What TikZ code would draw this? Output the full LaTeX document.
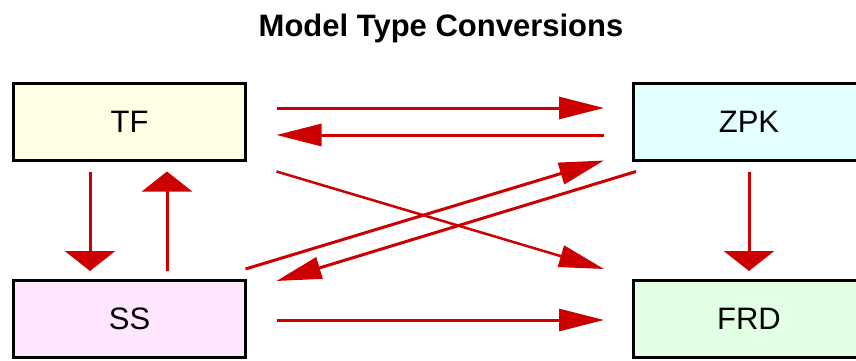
\documentclass[tikz,border=0pt]{standalone}
\usepackage{fontspec}
\setmainfont{Liberation Sans}
\usetikzlibrary{arrows.meta}
\definecolor{arrred}{HTML}{CC0000}
\definecolor{tffill}{HTML}{FFFFE6}
\definecolor{zpkfill}{HTML}{E3FFFF}
\definecolor{ssfill}{HTML}{FFE6FF}
\definecolor{frdfill}{HTML}{E3FFE3}
\begin{document}
\begin{tikzpicture}[x=1pt,y=1pt,
  modelbox/.style={draw=black,line width=3pt,minimum width=232pt,minimum height=77pt,
    inner sep=0pt,outer sep=0pt,font=\fontsize{31}{36}\selectfont},
  harr/.style={draw=arrred,line width=3pt,-{Triangle[length=45pt,width=22pt]}},
  varr/.style={draw=arrred,line width=3pt,-{Triangle[length=20pt,width=50pt]}}]
\useasboundingbox (0,0) rectangle (856,360);
\node[font=\fontsize{31}{36}\selectfont\bfseries] (title) at (441,332) {Model Type Conversions};
\node[modelbox,fill=tffill] (tf) at (129.5,238) {TF};
\node[modelbox,fill=zpkfill] (zpk) at (749,238) {ZPK};
\node[modelbox,fill=ssfill] (ss) at (129.5,41.5) {SS};
\node[modelbox,fill=frdfill] (frd) at (749,41.5) {FRD};
% horizontal
\draw[harr] ([shift={(31,14)}]tf.east) -- ([shift={(-29,14)}]zpk.west);
\draw[harr] ([shift={(-29,-13)}]zpk.west) -- ([shift={(31,-13)}]tf.east);
\draw[harr] ([shift={(31,-1.5)}]ss.east) -- ([shift={(-29,-1.5)}]frd.west);
% vertical
\draw[varr] ([shift={(-39.5,-11)}]tf.south) -- ([shift={(-39.5,9)}]ss.north);
\draw[varr] ([shift={(37.5,9)}]ss.north) -- ([shift={(37.5,-11)}]tf.south);
\draw[varr] ([yshift=-11]zpk.south) -- ([yshift=9]frd.north);
% diagonals
\draw[harr,line width=2.5pt] ([shift={(31,-11)}]tf.south east) -- ([shift={(-29,11)}]frd.north west);
\draw[harr] ([shift={(0,11)}]ss.north east) -- ([shift={(-29,0)}]zpk.south west);
\draw[harr] ([shift={(3,-11)}]zpk.south west) -- ([shift={(31,-1)}]ss.north east);
\end{tikzpicture}
\end{document}
